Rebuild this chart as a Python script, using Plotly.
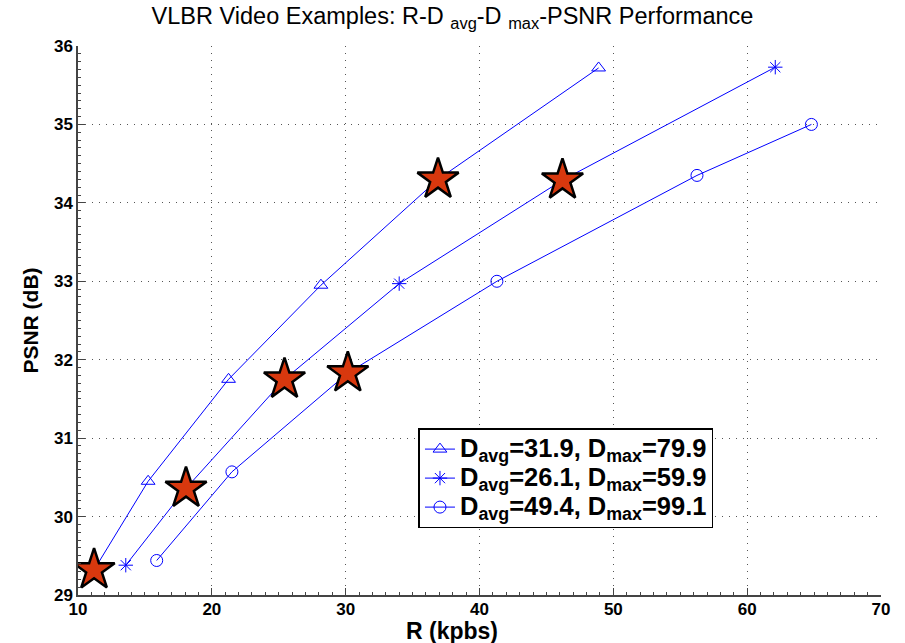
import plotly.graph_objects as go

# Rate (kbps) / PSNR (dB) operating points for three distortion settings
tri_x = [11.2, 15.24, 21.25, 28.15, 36.9, 48.9]
tri_y = [29.32, 30.45, 31.75, 32.95, 34.30, 35.72]
ast_x = [13.57, 18.07, 25.43, 34.0, 46.2, 62.1]
ast_y = [29.38, 30.36, 31.75, 32.97, 34.29, 35.73]
cir_x = [15.88, 21.5, 30.16, 41.3, 56.25, 64.8]
cir_y = [29.44, 30.57, 31.83, 33.0, 34.35, 35.0]

# Highlighted operating points
star_x = [11.2, 18.07, 25.43, 30.16, 36.9, 46.2]
star_y = [29.32, 30.36, 31.75, 31.83, 34.30, 34.29]

series_names = [
    "D<sub>avg</sub>=31.9, D<sub>max</sub>=79.9",
    "D<sub>avg</sub>=26.1, D<sub>max</sub>=59.9",
    "D<sub>avg</sub>=49.4, D<sub>max</sub>=99.1",
]

BLUE = "#0000ff"
FONT = "Liberation Sans, Arial, Helvetica, sans-serif"

fig = go.Figure()

for xs, ys, sym, name in [
    (tri_x, tri_y, "triangle-up-open", series_names[0]),
    (ast_x, ast_y, "asterisk-open", series_names[1]),
    (cir_x, cir_y, "circle-open", series_names[2]),
]:
    fig.add_trace(go.Scatter(
        x=xs, y=ys, mode="lines+markers",
        name='<span style="font-size:25.5px">' + name + "</span>",
        line=dict(color=BLUE, width=1),
        marker=dict(symbol=sym, size=12, color=BLUE, line=dict(color=BLUE, width=1)),
    ))

fig.add_trace(go.Scatter(
    x=star_x, y=star_y, mode="markers", showlegend=False,
    marker=dict(symbol="star", size=31, color="#d8380e",
                line=dict(color="black", width=2.5)),
))

axis_common = dict(
    showline=True, linecolor="#444444", linewidth=1.5, mirror=False,
    ticks="inside", ticklen=7, tickcolor="#444444", tickwidth=1,
    showgrid=True, gridcolor="#555555", gridwidth=1, griddash="1px,6px",
    zeroline=False, automargin=False,
    tickfont=dict(family=FONT, size=17, color="black", weight="bold"),
)

fig.update_xaxes(
    range=[10, 70], dtick=10, tick0=10, ticklabelstandoff=-2,
    minor=dict(dtick=1, ticks="inside", ticklen=3, tickcolor="#444444", showgrid=False),
    **axis_common,
)
fig.update_yaxes(
    range=[29, 36], dtick=1, tick0=29,
    minor=dict(dtick=0.1, ticks="inside", ticklen=3, tickcolor="#444444", showgrid=False),
    title=dict(text="PSNR (dB)", standoff=10,
               font=dict(family=FONT, size=21, color="black", weight="bold")),
    **axis_common,
)

# x-axis label, centred on the figure
fig.add_annotation(
    text="R (kpbs)", xref="paper", yref="paper",
    x=0.466, y=-0.066, xanchor="center", yanchor="middle", showarrow=False,
    borderpad=0,
    font=dict(family=FONT, size=23, color="black", weight="bold"),
)

fig.update_layout(
    width=905, height=643,
    margin=dict(l=77.5, r=24, t=46, b=47.5),
    paper_bgcolor="white", plot_bgcolor="white",
    title=dict(
        text="VLBR Video Examples: R-D <sub>avg</sub>-D <sub>max</sub>-PSNR Performance",
        x=0.5, xanchor="center", y=0.988, yanchor="top",
        font=dict(family=FONT, size=23.5, color="black"),
    ),
    legend=dict(
        x=0.424, y=0.304, xanchor="left", yanchor="top",
        bgcolor="white", bordercolor="black", borderwidth=1.5,
        font=dict(family=FONT, size=20, color="black", weight="bold"),
        tracegroupgap=0, itemwidth=30,
    ),
    showlegend=True,
)

fig.write_html("out.html")
